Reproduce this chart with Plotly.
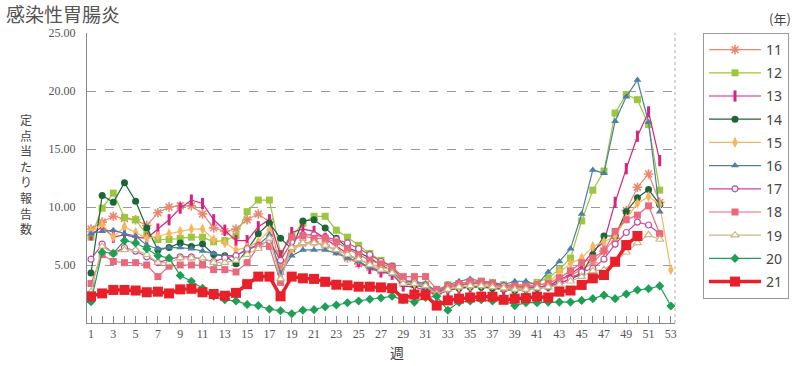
import plotly.graph_objects as go

weeks = list(range(1, 54))
tick_labels = [str(w) if w % 2 == 1 else "" for w in weeks]
y_ticks = [5, 10, 15, 20, 25]
y_tick_labels = ["5.00", "10.00", "15.00", "20.00", "25.00"]

s11 = [8.1, 8.7, 9.2, 9.0, 8.9, 8.4, 9.5, 10.0, 10.1, 10.1, 9.4, 8.2, 7.9, 8.1, 8.9, 9.4, 8.7, 4.8,
       6.4, 6.9, 7.0, 6.7, 6.2, 5.6, 5.1, 4.8, 4.5, 4.3, 3.4, 3.3, 3.0, 2.5, 3.0, 3.2, 3.4, 3.4,
       3.2, 3.0, 3.1, 3.0, 3.1, 3.2, 3.6, 4.1, 4.6, 5.2, 6.2, 7.3, 9.7, 11.7, 12.85, 10.4, None]
s12 = [7.4, 9.9, 11.2, 9.1, 8.9, 7.6, 7.2, 7.2, 7.3, 7.4, 7.4, 7.0, 7.1, 7.5, 9.6, 10.6, 10.6, 6.0,
       7.5, 8.6, 9.2, 9.2, 8.0, 7.4, 6.7, 6.0, 5.4, 4.9, 3.7, 3.6, 3.3, 2.8, 3.3, 3.4, 3.5, 3.6,
       3.5, 3.3, 3.3, 3.3, 3.5, 3.9, 4.6, 5.6, 8.8, 11.45, 13.1, 18.1, 19.7, 19.25, 17.1, 11.45, None]
s13 = [7.6, 8.3, 7.4, 7.6, 7.4, 7.3, 8.1, 8.9, 9.9, 10.6, 10.3, 8.9, 8.0, 7.1, 7.1, 8.3, 8.9, 5.8,
       7.8, 8.1, 7.9, 7.3, 6.6, 6.0, 5.3, 4.7, 4.4, 4.2, 3.2, 3.1, 2.8, 2.4, 2.8, 3.0, 3.1, 3.2,
       3.1, 2.9, 3.0, 3.0, 3.1, 3.2, 3.7, 4.2, 4.9, 6.2, 7.0, 10.4, 13.3, 16.1, 18.2, 14.0, None]
s14 = [4.3, 11.0, 10.4, 12.1, 10.5, 8.2, 6.3, 6.5, 6.9, 6.6, 6.8, 5.9, 5.8, 5.1, 6.3, 7.7, 8.6, 7.3,
       6.4, 8.8, 8.9, 8.2, 7.3, 6.5, 6.1, 5.6, 5.0, 4.5, 3.4, 3.3, 3.1, 2.6, 2.9, 3.0, 3.1, 3.1,
       3.0, 2.9, 2.8, 2.9, 3.0, 3.1, 3.4, 3.8, 4.2, 5.9, 7.5, 7.5, 9.6, 10.8, 11.5, 10.2, None]
s15 = [7.9, 8.5, 7.4, 8.3, 7.8, 7.3, 7.5, 7.7, 7.9, 8.1, 8.1, 7.2, 6.9, 6.3, 6.5, 7.0, 8.0, 3.9,
       6.3, 6.8, 6.9, 6.7, 6.3, 5.9, 5.5, 5.1, 4.8, 4.6, 3.6, 3.4, 3.3, 2.7, 3.0, 3.1, 3.2, 3.3,
       3.3, 3.1, 3.0, 3.0, 3.3, 3.4, 4.4, 5.1, 5.6, 6.6, 7.0, 7.5, 9.0, 10.3, 10.9, 10.2, 4.6]
s16 = [7.7, 7.9, 8.0, 7.7, 7.5, 6.7, 6.4, 6.5, 6.5, 6.4, 6.2, 6.0, 5.8, 5.8, 6.3, 6.7, 7.6, 4.3,
       5.8, 6.3, 6.3, 6.3, 6.0, 5.6, 5.3, 4.8, 4.5, 4.2, 3.6, 3.6, 3.4, 2.7, 3.3, 3.6, 3.8, 3.6,
       3.5, 3.3, 3.6, 3.6, 3.3, 4.4, 5.3, 6.4, 9.4, 13.2, 12.9, 17.4, 19.5, 20.95, 17.3, 9.6, None]
s17 = [5.5, 6.8, 6.0, 6.5, 6.2, 5.7, 5.2, 5.5, 5.7, 5.7, 5.5, 5.3, 5.6, 5.8, 6.4, 6.7, 7.1, 5.4,
       7.0, 7.6, 7.6, 7.4, 7.2, 6.9, 6.4, 5.9, 5.3, 4.9, 3.6, 3.5, 3.2, 2.6, 3.1, 3.3, 3.4, 3.5,
       3.4, 3.2, 3.2, 3.1, 3.1, 3.2, 3.4, 3.8, 4.4, 4.7, 5.5, 6.8, 7.8, 8.7, 8.45, 7.7, None]
s18 = [3.4, 5.9, 5.3, 5.2, 5.2, 5.0, 4.0, 4.9, 5.0, 5.0, 5.0, 4.6, 4.6, 4.4, 5.2, 6.6, 6.6, 3.5,
       7.4, 7.5, 7.3, 7.3, 7.0, 6.4, 5.9, 5.4, 5.1, 4.8, 4.0, 4.0, 4.0, 2.9, 3.2, 3.4, 3.6, 3.6,
       3.4, 3.0, 3.2, 3.2, 3.3, 3.4, 3.9, 4.5, 5.2, 5.6, 6.2, 7.9, 8.9, 9.3, 10.1, 7.7, None]
s19 = [2.7, 6.6, 6.0, 6.3, 6.3, 5.9, 5.2, 5.2, 5.6, 5.6, 5.6, 5.2, 5.2, 5.4, 5.9, 6.4, 7.3, 3.8,
       6.5, 6.9, 6.9, 6.7, 6.3, 5.9, 5.5, 5.0, 4.6, 4.3, 3.4, 3.4, 3.2, 2.5, 2.9, 3.1, 3.2, 3.2,
       3.1, 3.0, 2.9, 2.9, 3.0, 3.1, 3.3, 3.6, 4.0, 4.5, 4.6, 5.3, 6.1, 6.9, 7.6, 7.2, None]
s20 = [1.84, 6.1, 6.0, 7.1, 6.9, 6.4, 5.8, 5.6, 4.1, 3.6, 3.0, 2.3, 2.0, 1.9, 1.6, 1.5, 1.2, 1.05,
       0.8, 1.1, 1.15, 1.4, 1.55, 1.75, 1.9, 2.05, 2.15, 2.3, 2.0, 1.8, 2.2, 2.3, 1.1, 1.8, 1.9, 2.0,
       1.9, 2.0, 1.5, 1.75, 1.75, 1.8, 1.8, 1.8, 1.95, 2.1, 2.4, 2.1, 2.5, 2.85, 2.95, 3.2, 1.47]
s21 = [2.3, 2.55, 2.85, 2.85, 2.8, 2.65, 2.7, 2.55, 2.9, 2.95, 2.65, 2.5, 2.35, 2.6, 3.35, 4.0, 4.0, 2.3,
       4.0, 3.85, 3.8, 3.55, 3.3, 3.25, 3.13, 3.13, 3.07, 3.0, 2.1, 2.45, 2.4, 1.5, 1.95, 2.1, 2.2, 2.27,
       2.27, 2.0, 2.1, 2.15, 2.27, 2.2, 2.7, 2.8, 3.28, 3.85, 4.14, 5.28, 6.72, 7.5, None, None, None]

series = [
    ("11", s11, "#E8896E", dict(symbol="asterisk-open", size=8, line=dict(color="#E8896E", width=1.6)), 1.2),
    ("12", s12, "#9CC63E", dict(symbol="square", size=7, color="#9CC63E"), 1.2),
    ("13", s13, "#D8237F", dict(symbol="line-ns-open", size=8, line=dict(color="#D8237F", width=3)), 1.2),
    ("14", s14, "#1C6637", dict(symbol="circle", size=7, color="#1C6637"), 1.2),
    ("15", s15, "#F5B65E", dict(symbol="diamond-tall", size=8, color="#F5B65E"), 1.2),
    ("16", s16, "#4D80A4", dict(symbol="triangle-up", size=7, color="#4D80A4"), 1.2),
    ("17", s17, "#C5469B", dict(symbol="circle", size=6, color="white", line=dict(color="#C5469B", width=1.2)), 1.2),
    ("18", s18, "#E9687B", dict(symbol="square", size=7, color="#E9687B"), 1.2),
    ("19", s19, "#C8B78A", dict(symbol="triangle-up", size=7, color="white", line=dict(color="#C8B78A", width=1.2)), 1.2),
    ("20", s20, "#1E9F55", dict(symbol="diamond", size=7, color="#1E9F55"), 1.2),
    ("21", s21, "#E8202A", dict(symbol="square", size=10, color="#E8202A"), 3.5),
]

fig = go.Figure()
for name, vals, color, marker, lw in series:
    fig.add_trace(go.Scatter(
        x=weeks, y=vals, name=name, mode="lines+markers",
        line=dict(color=color, width=lw), marker=marker,
        legendgroup=name, connectgaps=False,
    ))

tick_font = dict(family="Liberation Serif", size=12, color="#555")

fig.update_layout(
    width=800, height=366,
    margin=dict(l=87, r=124, t=33, b=43),
    plot_bgcolor="white", paper_bgcolor="white",
    showlegend=True,
    legend=dict(
        x=(703 - 87) / 589, xanchor="left", y=1.0, yanchor="top",
        bordercolor="#999", borderwidth=1,
        font=dict(family="Noto Sans", size=14, color="#444"),
        tracegroupgap=2, itemwidth=52,
    ),
    xaxis=dict(
        range=[0.64, 53.37], tickvals=weeks, ticktext=tick_labels,
        ticks="inside", ticklen=7, tickcolor="#888", tickwidth=1,
        showline=True, linecolor="#888", linewidth=1,
        showgrid=False, zeroline=False, tickfont=tick_font,
    ),
    yaxis=dict(
        range=[0, 25], tickvals=y_ticks, ticktext=y_tick_labels,
        showline=True, linecolor="#888", linewidth=1,
        showgrid=True, gridcolor="#999", griddash="dash", gridwidth=1,
        zeroline=False, ticks="", tickfont=tick_font, ticklabelstandoff=8,
    ),
    shapes=[
        dict(type="line", xref="paper", yref="paper", x0=1, x1=1, y0=0, y1=1,
             line=dict(color="#aaa", width=1, dash="dot")),
    ],
)


def px_x(px):
    return (px - 87) / 589


def px_y(py):
    return (323 - py) / 290


fig.add_annotation(text="感染性胃腸炎", xref="paper", yref="paper",
                   x=px_x(4), y=px_y(14), xanchor="left", yanchor="middle", showarrow=False,
                   font=dict(family="Noto Sans CJK JP", size=19, color="#555"))
fig.add_annotation(text="週", xref="paper", yref="paper",
                   x=px_x(398), y=px_y(352), xanchor="center", yanchor="middle",
                   showarrow=False, font=dict(family="Noto Sans CJK JP", size=14, color="#444"))
fig.add_annotation(text="(年)", xref="paper", yref="paper",
                   x=px_x(781), y=px_y(19), xanchor="center", yanchor="middle",
                   showarrow=False, font=dict(family="Noto Sans CJK JP", size=13, color="#444"))
fig.add_annotation(text="<br>".join(list("定点当たり報告数")), xref="paper", yref="paper",
                   x=px_x(26), y=px_y(174), xanchor="center", yanchor="middle",
                   showarrow=False, align="center",
                   font=dict(family="Noto Sans CJK JP", size=12, color="#444"))

fig.write_html("out.html", config={"displayModeBar": False},
               post_script="document.body.style.margin='0';")
